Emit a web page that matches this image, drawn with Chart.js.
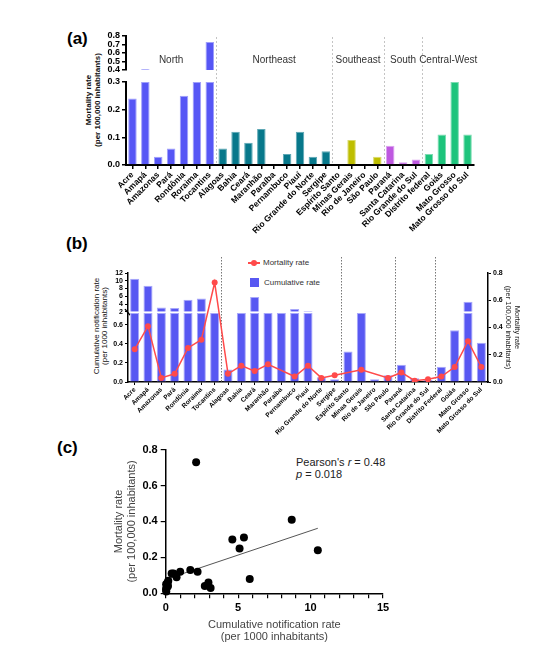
<!DOCTYPE html>
<html>
<head>
<meta charset="utf-8">
<title>Mortality and notification rates by state</title>
<script src="https://cdn.jsdelivr.net/npm/chart.js@4.4.1/dist/chart.umd.min.js"></script>
<style>
  body { margin: 0; width: 550px; height: 664px; position: relative; overflow: hidden; background: #fff; font-family: "Liberation Sans", Arial, sans-serif; }
  canvas { position: absolute; left: 0; }
  .tag { position: absolute; font-weight: bold; font-size: 17px; line-height: 17px; color: #000; }
  .vtitle { position: absolute; transform: translate(-50%, -50%) rotate(-90deg); white-space: nowrap; text-align: center; color: #111; }
  .note { position: absolute; font-size: 11px; line-height: 12px; color: #222; white-space: nowrap; }
  .leg { position: absolute; font-size: 8px; line-height: 10px; color: #333; white-space: nowrap; }
  .leg span { display: inline-block; vertical-align: middle; }
</style>
</head>
<body>
<div class="tag" style="left:67px;top:30px">(a)</div>
<div class="tag" style="left:66px;top:235px">(b)</div>
<div class="tag" style="left:57px;top:439px">(c)</div>

<div class="vtitle" style="left:93px;top:100px;font-size:8px;line-height:8.5px;font-weight:bold">Mortality rate<br>(per 100,000 inhabitants)</div>
<div class="vtitle" style="left:100px;top:326px;font-size:8px;line-height:7.5px">Cumulative notification rate<br>(per 1000 inhabitants)</div>

<div class="leg" style="left:248px;top:258px"><span style="position:relative;width:12px;height:2px;background:#ff4a4a;margin-right:3px"><span style="position:absolute;left:3px;top:-2px;width:6px;height:6px;border-radius:50%;background:#ff4a4a"></span></span>Mortality rate</div>
<div class="leg" style="left:250px;top:278px"><span style="width:9px;height:9px;background:#5858f2;margin-right:5px"></span>Cumulative rate</div>

<div class="note" style="left:296px;top:456px">Pearson's <i>r</i> = 0.48</div>
<div class="note" style="left:296px;top:468px"><i>p</i> = 0.018</div>

<canvas id="chartA" width="550" height="232" style="top:20px"></canvas>
<canvas id="chartB" width="550" height="210" style="top:250px"></canvas>
<canvas id="chartC" width="550" height="224" style="top:440px"></canvas>

<script>
// states, in the order of the figure
const states = ['Acre', 'Amapá', 'Amazonas', 'Pará', 'Rondônia', 'Roraima', 'Tocantins',
  'Alagoas', 'Bahia', 'Ceará', 'Maranhão', 'Paraíba', 'Pernambuco', 'Piauí', 'Rio Grande do Norte', 'Sergipe',
  'Espírito Santo', 'Minas Gerais', 'Rio de Janeiro', 'São Paulo',
  'Paraná', 'Santa Catarina', 'Rio Grande do Sul',
  'Distrito federal', 'Goiás', 'Mato Grosso', 'Mato Grosso do Sul'];
const statesB = ['Acre', 'Amapá', 'Amazonas', 'Pará', 'Rondônia', 'Roraima', 'Tocantins',
  'Alagoas', 'Bahia', 'Ceará', 'Maranhão', 'Paraíba', 'Pernambuco', 'Piauí', 'Rio Grande do Norte', 'Sergipe',
  'Espírito Santo', 'Minas Gerais', 'Rio de Janeiro', 'São Paulo',
  'Paraná', 'Santa Catarina', 'Rio Grande do Sul',
  'Distrito Federal', 'Goiás', 'Mato Grosso', 'Mato Grosso do Sul'];

const regionNames = ['North', 'Northeast', 'Southeast', 'South', 'Central-West'];
const regionSizes = [7, 9, 4, 3, 4];
const regionColors = ['#5656f5', '#07788b', '#bebe00', '#be58e0', '#1ec47c'];
const regionEdges = ['#a0a0fb', '#5ea8b5', '#dada6a', '#daa0f0', '#7cdcb2'];

// mortality rate per 100,000 inhabitants (null = not plotted)
const mortality = [0.24, 0.41, 0.03, 0.06, 0.25, 0.31, 0.73,
  0.06, 0.12, 0.08, 0.13, null, 0.04, 0.12, 0.03, 0.05,
  null, 0.09, null, 0.03,
  0.07, 0.01, 0.02,
  0.04, 0.11, 0.30, 0.11];

// cumulative notification rate per 1000 inhabitants
const notification = [10.5, 8.7, 3.1, 2.95, 5.1, 5.4, 2.1,
  0.13, 1.0, 5.8, 1.7, 1.2, 2.7, 2.2, 0.05, 0.03,
  0.32, 0.75, 0.03, 0.07,
  0.18, 0.04, 0.02,
  0.16, 0.54, 4.6, 0.41];

// linear fit
const fitX = [0.02, 10.5];
const fitY = [0.078, 0.362];

// broken axis limits
const lowTopA = 0.3, highBottomA = 0.4;
const lowTopB = 0.72, highBottomB = 2;

Chart.defaults.font.family = '"Liberation Sans", Arial, sans-serif';
Chart.defaults.color = '#000';

const barColors = [];
const edgeColors = [];
regionSizes.forEach((n, i) => {
  for (let k = 0; k < n; k++) {
    barColors.push(regionColors[i]);
    edgeColors.push(regionEdges[i]);
  }
});

// dotted lines between regions (+ optional region names)
const regionPlugin = {
  id: 'regions',
  beforeDatasetsDraw(chart, args, opts) {
    const {ctx, chartArea, scales: {x}} = chart;
    ctx.save();
    ctx.strokeStyle = opts.color;
    ctx.lineWidth = 1;
    ctx.setLineDash(opts.dash);
    ctx.font = '10px "Liberation Sans", Arial, sans-serif';
    ctx.textAlign = 'center';
    ctx.textBaseline = 'middle';
    let start = 0;
    regionSizes.forEach((n, i) => {
      if (i > 0) {
        const px = Math.round(x.getPixelForValue(start - 0.5)) + 0.5;
        ctx.beginPath();
        ctx.moveTo(px, chartArea.top + opts.top);
        ctx.lineTo(px, chartArea.bottom);
        ctx.stroke();
      }
      if (opts.labels) {
        ctx.fillStyle = '#333';
        ctx.fillText(regionNames[i], x.getPixelForValue(start + (n - 1) / 2), chartArea.top + opts.labelY);
      }
      start += n;
    });
    if (opts.breakMark) {
      const lo = chart.scales.yLow;
      ctx.setLineDash([]);
      ctx.strokeStyle = '#000';
      ctx.lineWidth = 1.5;
      ctx.beginPath();
      ctx.moveTo(lo.right - 3, lo.top - 4);
      ctx.lineTo(lo.right + 2, lo.top + 2);
      ctx.stroke();
    }
    ctx.restore();
  }
};

const noGrid = {display: false};
const spacer = (stack, w) => ({
  type: 'linear', position: 'left', stack: stack, stackWeight: w, weight: 2,
  ticks: {display: false}, grid: noGrid, border: {display: false},
  afterFit: s => { s.width = stack === 'a' ? 126 : 128; }
});

// (a) mortality rate by state
new Chart(document.getElementById('chartA'), {
  type: 'bar',
  data: {
    labels: states,
    datasets: [
      {
        data: mortality.map(v => v === null ? null : Math.min(v, lowTopA)),
        yAxisID: 'yLow',
        backgroundColor: barColors, borderColor: edgeColors, borderWidth: 1,
        grouped: false, barPercentage: 0.66, categoryPercentage: 1
      },
      {
        data: mortality.map(v => v !== null && v > highBottomA ? [highBottomA, v] : null),
        yAxisID: 'yHigh',
        backgroundColor: barColors, borderColor: edgeColors, borderWidth: 1,
        grouped: false, barPercentage: 0.66, categoryPercentage: 1
      }
    ]
  },
  options: {
    responsive: false,
    animation: false,
    layout: {padding: {top: 16, right: 76, bottom: 0, left: 0}},
    plugins: {
      legend: {display: false},
      tooltip: {enabled: false},
      regions: {color: '#c4c4c4', dash: [2, 2], top: 1, labels: true, labelY: 24}
    },
    scales: {
      x: {
        grid: {display: true, drawOnChartArea: false, offset: false, tickLength: 4, color: '#000', lineWidth: 1.5},
        border: {color: '#000', width: 2},
        ticks: {font: {size: 8.5, weight: 'bold'}, maxRotation: 45, minRotation: 45, autoSkip: false, padding: 1},
        afterFit: s => { s.height = 87; }
      },
      yLow: {
        type: 'linear', position: 'left', stack: 'a', stackWeight: 83, weight: 1,
        min: 0, max: lowTopA,
        ticks: {stepSize: 0.1, autoSkip: false, font: {size: 9, weight: 'bold'}, padding: 2, callback: v => v.toFixed(1)},
        grid: {display: true, drawOnChartArea: false, tickLength: 4, color: '#000', lineWidth: 1.5},
        border: {color: '#000', width: 2},
        afterFit: s => { s.width = 126; }
      },
      yGap: spacer('a', 12),
      yHigh: {
        type: 'linear', position: 'left', stack: 'a', stackWeight: 34, weight: 3,
        min: highBottomA, max: 0.8,
        ticks: {stepSize: 0.1, autoSkip: false, font: {size: 9, weight: 'bold'}, padding: 2, callback: v => v.toFixed(1)},
        grid: {display: true, drawOnChartArea: false, tickLength: 4, color: '#000', lineWidth: 1.5},
        border: {color: '#000', width: 2},
        afterFit: s => { s.width = 126; }
      }
    }
  },
  plugins: [regionPlugin]
});

// (b) cumulative notification rate (bars) and mortality rate (line)
new Chart(document.getElementById('chartB'), {
  type: 'bar',
  data: {
    labels: statesB,
    datasets: [
      {
        type: 'line', label: 'Mortality rate',
        data: mortality, yAxisID: 'yR', spanGaps: true, order: 0,
        borderColor: '#ff4a4a', backgroundColor: '#ff4a4a', borderWidth: 1.5,
        pointRadius: 3, pointBorderWidth: 0
      },
      {
        label: 'Cumulative rate',
        data: notification.map(v => Math.min(v, lowTopB)), yAxisID: 'yLow', order: 1,
        backgroundColor: '#5858f2', borderColor: '#a8a8fa', borderWidth: 1,
        grouped: false, barPercentage: 0.68, categoryPercentage: 1
      },
      {
        label: 'Cumulative rate',
        data: notification.map(v => v > highBottomB ? [highBottomB, v] : null), yAxisID: 'yHigh', order: 1,
        backgroundColor: '#5858f2', borderColor: '#a8a8fa', borderWidth: 1,
        grouped: false, barPercentage: 0.68, categoryPercentage: 1
      }
    ]
  },
  options: {
    responsive: false,
    animation: false,
    layout: {padding: {top: 23, right: 25, bottom: 0, left: 0}},
    plugins: {
      legend: {display: false},
      tooltip: {enabled: false},
      regions: {color: '#777', dash: [1.5, 1.5], top: -16, labels: false, breakMark: true}
    },
    scales: {
      x: {
        grid: {display: true, drawOnChartArea: false, offset: false, tickLength: 3, color: '#000', lineWidth: 1},
        border: {color: '#000', width: 1.5},
        ticks: {font: {size: 6.5, weight: 'bold'}, maxRotation: 45, minRotation: 45, autoSkip: false, padding: 1},
        afterFit: s => { s.height = 78; }
      },
      yLow: {
        type: 'linear', position: 'left', stack: 'b', stackWeight: 68.7, weight: 1,
        min: 0, max: lowTopB,
        ticks: {stepSize: 0.2, autoSkip: false, includeBounds: false, font: {size: 7, weight: 'bold'}, padding: 2, callback: v => v.toFixed(1)},
        grid: {display: true, drawOnChartArea: false, tickLength: 3, color: '#000', lineWidth: 1},
        border: {color: '#000', width: 1.5},
        afterFit: s => { s.width = 128; }
      },
      yGap: spacer('b', 1.3),
      yHigh: {
        type: 'linear', position: 'left', stack: 'b', stackWeight: 38.7, weight: 3,
        min: highBottomB, max: 12,
        ticks: {stepSize: 2, autoSkip: false, font: {size: 7, weight: 'bold'}, padding: 2},
        grid: {display: true, drawOnChartArea: false, tickLength: 3, color: '#000', lineWidth: 1},
        border: {color: '#000', width: 1.5},
        afterFit: s => { s.width = 128; }
      },
      yR: {
        type: 'linear', position: 'right',
        min: 0, max: 0.8,
        ticks: {stepSize: 0.2, autoSkip: false, font: {size: 7, weight: 'bold'}, padding: 2, callback: v => v.toFixed(1)},
        grid: {display: true, drawOnChartArea: false, tickLength: 3, color: '#000', lineWidth: 1},
        border: {color: '#000', width: 1.5},
        title: {display: true, text: ['Mortality rate', '(per 100,000 inhabitants)'], color: '#222',
          font: {size: 7.5, lineHeight: 1.15}, padding: {top: 4, bottom: 4}},
        afterFit: s => { s.width = 37; }
      }
    }
  },
  plugins: [regionPlugin]
});

// (c) correlation between notification and mortality
const scatterPoints = [];
notification.forEach((x, i) => {
  if (mortality[i] !== null) scatterPoints.push({x: x, y: mortality[i]});
});

new Chart(document.getElementById('chartC'), {
  type: 'scatter',
  data: {
    datasets: [
      {
        type: 'line', data: fitX.map((x, i) => ({x: x, y: fitY[i]})),
        borderColor: '#555', borderWidth: 1, pointRadius: 0, order: 1
      },
      {
        data: scatterPoints, backgroundColor: '#000', borderWidth: 0,
        pointRadius: 4, clip: false, order: 0
      }
    ]
  },
  options: {
    responsive: false,
    animation: false,
    layout: {padding: {top: 8, right: 167, bottom: 17.5, left: 109}},
    plugins: {legend: {display: false}, tooltip: {enabled: false}},
    scales: {
      x: {
        type: 'linear', min: 0, max: 15,
        ticks: {stepSize: 1, autoSkip: false, maxRotation: 0, minRotation: 0, font: {size: 11, weight: 'bold'}, padding: 3,
          callback: v => v % 5 === 0 ? v : ''},
        grid: {display: true, drawOnChartArea: false, tickLength: 5, color: '#000', lineWidth: 1.2},
        border: {color: '#000', width: 1.5},
        title: {display: true, text: ['Cumulative notification rate', '(per 1000 inhabitants)'], color: '#444',
          font: {size: 11, lineHeight: 1.06}, padding: {top: 4, bottom: 4}},
        afterFit: s => { s.height = 53.2; }
      },
      y: {
        type: 'linear', min: 0, max: 0.8,
        ticks: {stepSize: 0.2, autoSkip: false, font: {size: 11, weight: 'bold'}, padding: 3, callback: v => v.toFixed(1)},
        grid: {display: true, drawOnChartArea: false, tickLength: 5, color: '#000', lineWidth: 1.2},
        border: {color: '#000', width: 1.5},
        title: {display: true, text: ['Mortality rate', '(per 100,000 inhabitants)'], color: '#444',
          font: {size: 11, lineHeight: 1.15}, padding: {top: 4, bottom: 4}},
        afterFit: s => { s.width = 56.7; }
      }
    }
  }
});
</script>
</body>
</html>
